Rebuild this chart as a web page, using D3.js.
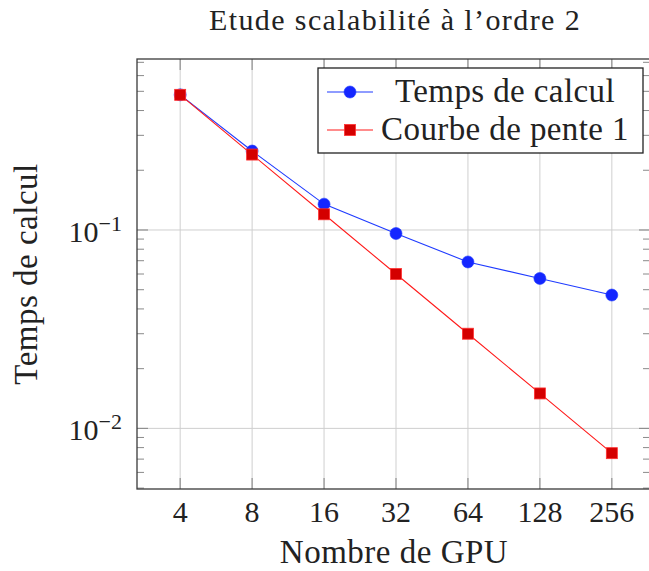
<!DOCTYPE html>
<html>
<head>
<meta charset="utf-8">
<script src="https://cdn.jsdelivr.net/npm/d3@7"></script>
<style>
  html, body { margin: 0; padding: 0; background: #fff; }
  svg { display: block; }
  text { font-family: "Liberation Serif", "DejaVu Serif", serif; fill: #222; }
</style>
</head>
<body>
<svg id="chart" width="649" height="571"></svg>
<script>
// ---- data ----
const gpus = [4, 8, 16, 32, 64, 128, 256];
const tempsCalcul = [0.48, 0.25, 0.135, 0.096, 0.069, 0.057, 0.047];
const courbePente1 = [0.48, 0.24, 0.12, 0.06, 0.03, 0.015, 0.0075];
const xTickLabels = ["4", "8", "16", "32", "64", "128", "256"];
const yMajorTicks = [0.1, 0.01];
const yTickExponents = ["\u22121", "\u22122"];
const seriesNames = ["Temps de calcul", "Courbe de pente 1"];
const title = "Etude scalabilit\u00e9 \u00e0 l\u2019ordre 2";
const xLabel = "Nombre de GPU";
const yLabel = "Temps de calcul";

// ---- layout ----
const svg = d3.select("#chart");
const L = 137, T = 59, B = 489, R = 650;
const enlarge = 0.1;

const lx0 = Math.log2(d3.min(gpus)), lx1 = Math.log2(d3.max(gpus));
const ex = (lx1 - lx0) * enlarge;
const x = d3.scaleLog().base(2)
  .domain([Math.pow(2, lx0 - ex), Math.pow(2, lx1 + ex)])
  .range([L, 655]);

const allY = tempsCalcul.concat(courbePente1);
const ly0 = Math.log10(d3.min(allY)), ly1 = Math.log10(d3.max(allY));
const ey = (ly1 - ly0) * enlarge;
const y = d3.scaleLog()
  .domain([Math.pow(10, ly0 - ey), Math.pow(10, ly1 + ey)])
  .range([B, T]);

// minor ticks (log decades)
const [yd0, yd1] = y.domain();
const yMinor = [];
for (let e = Math.floor(Math.log10(yd0)); e <= Math.ceil(Math.log10(yd1)); e++) {
  for (let m = 2; m <= 9; m++) {
    const v = m * Math.pow(10, e);
    if (v >= yd0 && v <= yd1) yMinor.push(v);
  }
}

const g = svg.append("g");

// grid
g.selectAll("line.gx").data(gpus).join("line")
  .attr("x1", d => x(d)).attr("x2", d => x(d))
  .attr("y1", T).attr("y2", B)
  .attr("stroke", "#cfcfcf").attr("stroke-width", 1);
g.selectAll("line.gy").data(yMajorTicks).join("line")
  .attr("x1", L).attr("x2", R)
  .attr("y1", d => y(d)).attr("y2", d => y(d))
  .attr("stroke", "#cfcfcf").attr("stroke-width", 1);

// ticks
const tickCol = "#8a8a8a";
gpus.forEach(d => {
  g.append("line").attr("x1", x(d)).attr("x2", x(d)).attr("y1", B).attr("y2", B - 11)
    .attr("stroke", tickCol).attr("stroke-width", 1.1);
  g.append("line").attr("x1", x(d)).attr("x2", x(d)).attr("y1", T).attr("y2", T + 11)
    .attr("stroke", tickCol).attr("stroke-width", 1.1);
});
yMajorTicks.forEach(d => {
  g.append("line").attr("x1", L).attr("x2", L + 11).attr("y1", y(d)).attr("y2", y(d))
    .attr("stroke", tickCol).attr("stroke-width", 1.1);
  g.append("line").attr("x1", R).attr("x2", R - 11).attr("y1", y(d)).attr("y2", y(d))
    .attr("stroke", tickCol).attr("stroke-width", 1.1);
});
yMinor.forEach(d => {
  g.append("line").attr("x1", L).attr("x2", L + 7).attr("y1", y(d)).attr("y2", y(d))
    .attr("stroke", tickCol).attr("stroke-width", 1);
  g.append("line").attr("x1", R).attr("x2", R - 7).attr("y1", y(d)).attr("y2", y(d))
    .attr("stroke", tickCol).attr("stroke-width", 1);
});

// frame
g.append("rect").attr("x", L).attr("y", T).attr("width", R - L).attr("height", B - T)
  .attr("fill", "none").attr("stroke", "#3a3a3a").attr("stroke-width", 1.3);

// series lines
const line = d3.line().x(d => x(d[0])).y(d => y(d[1]));
const blueData = gpus.map((v, i) => [v, tempsCalcul[i]]);
const redData = gpus.map((v, i) => [v, courbePente1[i]]);

g.append("path").datum(blueData).attr("d", line)
  .attr("fill", "none").attr("stroke", "#1f3bff").attr("stroke-width", 1.1);
g.selectAll("circle.b").data(blueData).join("circle")
  .attr("cx", d => x(d[0])).attr("cy", d => y(d[1])).attr("r", 6)
  .attr("fill", "#1426ff").attr("stroke", "#1f3bff").attr("stroke-width", 0.6);

g.append("path").datum(redData).attr("d", line)
  .attr("fill", "none").attr("stroke", "#ff1a1a").attr("stroke-width", 1.1);
g.selectAll("rect.r").data(redData).join("rect")
  .attr("x", d => x(d[0]) - 5.5).attr("y", d => y(d[1]) - 5.5)
  .attr("width", 11).attr("height", 11)
  .attr("fill", "#d40000").attr("stroke", "#ff3030").attr("stroke-width", 0.8);

// tick labels
g.selectAll("text.xt").data(gpus).join("text")
  .attr("x", d => x(d)).attr("y", 522)
  .attr("text-anchor", "middle").attr("font-size", 30)
  .text((d, i) => xTickLabels[i]);

yMajorTicks.forEach((d, i) => {
  const t = g.append("text").attr("x", 122).attr("y", y(d) + 12)
    .attr("text-anchor", "end").attr("font-size", 30);
  t.append("tspan").text("10");
  t.append("tspan").attr("dy", -11).attr("font-size", 22).text(yTickExponents[i]);
});

// title & axis labels
svg.append("text").attr("x", 395).attr("y", 30).attr("text-anchor", "middle")
  .attr("font-size", 30).attr("letter-spacing", 1.4).text(title);
svg.append("text").attr("x", 394).attr("y", 563).attr("text-anchor", "middle")
  .attr("font-size", 33).attr("letter-spacing", 0.5).text(xLabel);
svg.append("text").attr("transform", `translate(37,${(T + B) / 2}) rotate(-90)`)
  .attr("text-anchor", "middle").attr("font-size", 33).attr("letter-spacing", 0.5).text(yLabel);

// legend
const lg = svg.append("g");
lg.append("rect").attr("x", 318).attr("y", 68).attr("width", 325).attr("height", 85)
  .attr("fill", "#fff").attr("stroke", "#222").attr("stroke-width", 1.3);
const entries = [
  { name: seriesNames[0], cy: 92, color: "#1f3bff", mark: "circle" },
  { name: seriesNames[1], cy: 130, color: "#ff1a1a", mark: "square" }
];
entries.forEach(e => {
  lg.append("line").attr("x1", 327).attr("x2", 373).attr("y1", e.cy).attr("y2", e.cy)
    .attr("stroke", e.color).attr("stroke-width", 1.1);
  if (e.mark === "circle") {
    lg.append("circle").attr("cx", 350).attr("cy", e.cy).attr("r", 6)
      .attr("fill", "#1426ff").attr("stroke", "#1f3bff").attr("stroke-width", 0.6);
  } else {
    lg.append("rect").attr("x", 344.5).attr("y", e.cy - 5.5).attr("width", 11).attr("height", 11)
      .attr("fill", "#d40000").attr("stroke", "#ff3030").attr("stroke-width", 0.8);
  }
  lg.append("text").attr("x", 505).attr("y", e.cy + 10).attr("text-anchor", "middle")
    .attr("font-size", 33).attr("letter-spacing", 0.4).text(e.name);
});
</script>
</body>
</html>
